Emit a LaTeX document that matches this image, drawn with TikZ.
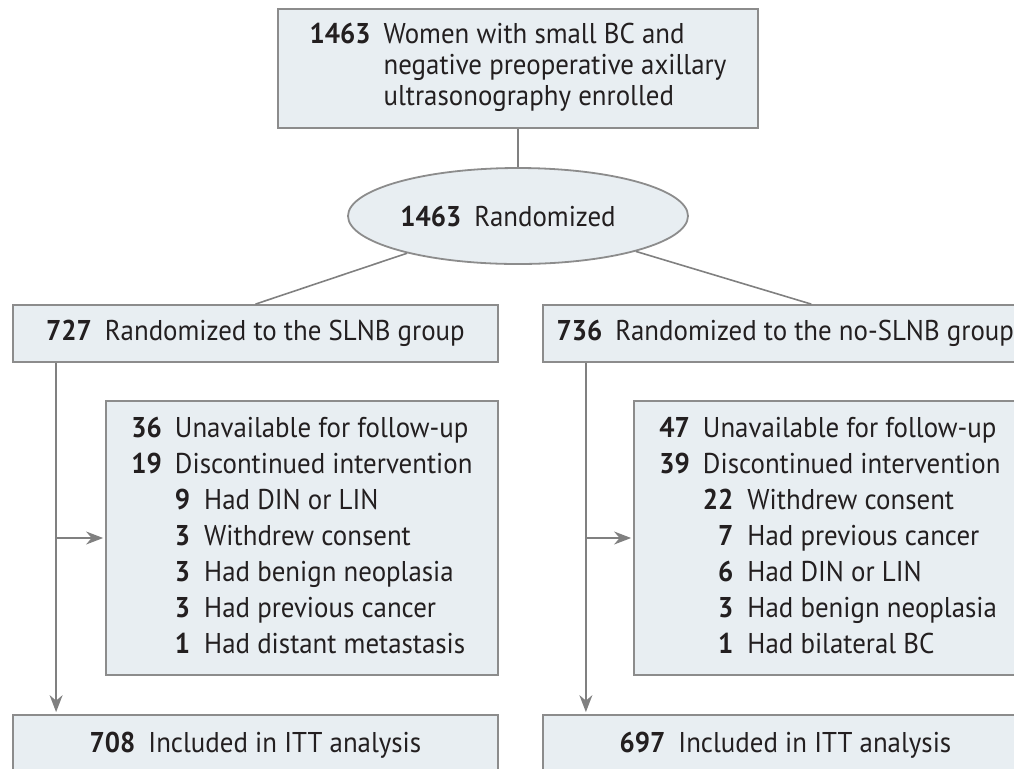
\documentclass[tikz,border=0pt]{standalone}
\usepackage{fontspec}
\setmainfont[FakeStretch=0.94]{PT Sans}
\usetikzlibrary{shapes.geometric,arrows.meta,positioning}

\definecolor{boxfill}{RGB}{232,238,242}
\definecolor{boxline}{RGB}{140,140,140}
\definecolor{flowline}{RGB}{128,128,128}
\definecolor{ink}{RGB}{35,31,32}
\def\armsep{22pt}

\begin{document}
\begin{tikzpicture}[x=0.5pt,y=-0.5pt,text=ink,font=\fontsize{14.3}{18}\selectfont]
    \tikzstyle{box}=[rectangle,draw=boxline,fill=boxfill,line width=0.9pt,inner sep=0pt]
    \tikzstyle{arm box}=[box,minimum width=242.5pt,minimum height=28.5pt]
    \tikzstyle{excl box}=[box,minimum width=196pt,minimum height=137pt]
    \tikzstyle{line}=[draw=flowline,line width=0.8pt]
    \tikzstyle{flow}=[line,-{Stealth[length=8.5pt,width=6.5pt]},shorten >=1pt]

    \useasboundingbox (0,0) rectangle (1014,768);

    % Enrollment and randomization
    \node[box,minimum width=240pt,minimum height=59.5pt] (enroll) at (518,68.5) {%
        \fontsize{14.3}{15.5}\selectfont
        \begin{tabular}{@{}r@{\hspace{6.5pt}}l@{}}
            \textbf{1463} & Women with small BC and\\
                          & negative preoperative axillary\\
                          & ultrasonography enrolled
        \end{tabular}};
    \node[ellipse,draw=boxline,fill=boxfill,line width=0.9pt,inner sep=0pt,
          minimum width=170pt,minimum height=48pt] (rand) at (518,216)
        {\textbf{1463}\hspace{6.5pt}Randomized\hspace*{10pt}};

    % The two arms
    \node[arm box] (slnb) at (255.5,333.5)
        {\textbf{727}\hspace{6.5pt}Randomized to the SLNB group};
    \node[arm box,right=21.5pt of slnb] (noslnb)
        {\textbf{736}\hspace{6.5pt}Randomized to the no-SLNB group};

    % Excluded after randomization
    \node[excl box] (exclA) at (302,538) {%
        \begin{tabular}{@{}r@{\hspace{6.5pt}}r@{\hspace{7pt}}l@{}}
            \textbf{36} & \multicolumn{2}{@{}l@{}}{Unavailable for follow-up}\\
            \textbf{19} & \multicolumn{2}{@{}l@{}}{Discontinued intervention}\\
                        & \textbf{9} & Had DIN or LIN\\
                        & \textbf{3} & Withdrew consent\\
                        & \textbf{3} & Had benign neoplasia\\
                        & \textbf{3} & Had previous cancer\\
                        & \textbf{1} & Had distant metastasis
        \end{tabular}};
    \node[excl box] (exclB) at (830,538) {%
        \begin{tabular}{@{}r@{\hspace{6.5pt}}r@{\hspace{7pt}}l@{}}
            \textbf{47} & \multicolumn{2}{@{}l@{}}{Unavailable for follow-up}\\
            \textbf{39} & \multicolumn{2}{@{}l@{}}{Discontinued intervention}\\
                        & \textbf{22} & Withdrew consent\\
                        & \textbf{7} & Had previous cancer\\
                        & \textbf{6} & Had DIN or LIN\\
                        & \textbf{3} & Had benign neoplasia\\
                        & \textbf{1} & Had bilateral BC
        \end{tabular}};

    % Analysed
    \node[arm box,minimum height=30pt] (ittA) at (255.5,745)
        {\textbf{708}\hspace{6.5pt}Included in ITT analysis};
    \node[arm box,minimum height=30pt] (ittB) at (785.5,745)
        {\textbf{697}\hspace{6.5pt}Included in ITT analysis};

    % Connect enrollment, randomization and the arms
    \draw[line] (enroll) -- (rand);
    \draw[line] (rand) -- (slnb.north);
    \draw[line] (rand) -- ([xshift=13pt]noslnb.north);

    % Down each arm, with a branch to its exclusions
    \foreach \arm/\excl/\itt in {slnb/exclA/ittA,noslnb/exclB/ittB} {
        \coordinate (\arm-down) at ([xshift=\armsep]\arm.south west);
        \draw[flow] (\arm-down) -- (\arm-down |- \itt.north);
        \draw[flow] (\arm-down |- \excl.west) -- (\excl.west);
    }
\end{tikzpicture}
\end{document}
